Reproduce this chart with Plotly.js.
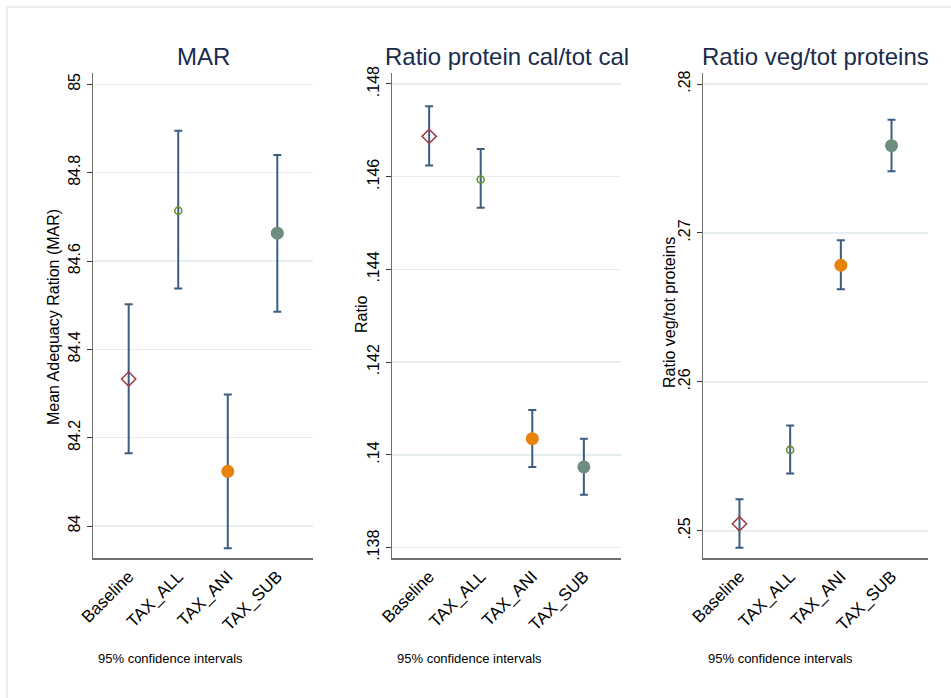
<!DOCTYPE html>
<html>
<head>
<meta charset="utf-8">
<script src="https://cdn.plot.ly/plotly-3.0.1.min.js"></script>
<style>html,body{margin:0;padding:0;background:#fff;}#chart{width:951px;height:698px;}</style>
</head>
<body>
<div id="chart"></div>
<script>
// ---- data ----
const categories = ["Baseline", "TAX_ALL", "TAX_ANI", "TAX_SUB"];

const marMean  = [84.333, 84.714, 84.124, 84.663];
const marUpper = [84.502, 84.895, 84.298, 84.840];
const marLower = [84.165, 84.538, 83.950, 84.485];

const protMean  = [0.14687, 0.14594, 0.14035, 0.13974];
const protUpper = [0.14752, 0.14660, 0.14097, 0.14035];
const protLower = [0.14624, 0.14533, 0.13974, 0.13914];

const vegMean  = [0.25047, 0.25543, 0.26783, 0.27586];
const vegUpper = [0.25211, 0.25707, 0.26951, 0.27760];
const vegLower = [0.24886, 0.25385, 0.26622, 0.27414];

const panelTitles = ["MAR", "Ratio protein cal/tot cal", "Ratio veg/tot proteins"];
const yTitles = ["Mean Adequacy Ration (MAR)", "Ratio", "Ratio veg/tot proteins"];
const noteText = "95% confidence intervals";

const marTickVals = [84, 84.2, 84.4, 84.6, 84.8, 85];
const marTickText = ["84", "84.2", "84.4", "84.6", "84.8", "85"];
const protTickVals = [0.138, 0.140, 0.142, 0.144, 0.146, 0.148];
const protTickText = [".138", ".14", ".142", ".144", ".146", ".148"];
const vegTickVals = [0.25, 0.26, 0.27, 0.28];
const vegTickText = [".25", ".26", ".27", ".28"];

// ---- styles ----
const W = 951, H = 698;
const markerStyles = [
  {symbol: "diamond-open", size: 11, color: "#a23b48", line: {width: 1.5, color: "#a23b48"}},
  {symbol: "circle-open", size: 7, color: "#6a8f2e", line: {width: 1.6, color: "#6a8f2e"}},
  {symbol: "circle", size: 13, color: "#e8820c", line: {width: 0}},
  {symbol: "circle", size: 13, color: "#6c8d80", line: {width: 0}}
];
const errColor = "#3b5d80";
const FONT = "Liberation Sans, Arial, Helvetica, sans-serif";

const panels = [
  {mean: marMean, up: marUpper, lo: marLower, range: [83.927, 85.025], tv: marTickVals, tt: marTickText, px: [93, 313]},
  {mean: protMean, up: protUpper, lo: protLower, range: [0.13777, 0.14823], tv: protTickVals, tt: protTickText, px: [392, 621]},
  {mean: vegMean, up: vegUpper, lo: vegLower, range: [0.24815, 0.28072], tv: vegTickVals, tt: vegTickText, px: [703, 928]}
];
const yPx = [73.3, 558.3];
const yDomain = [(H - yPx[1]) / H, (H - yPx[0]) / H];

const traces = [];
const layout = {
  width: W, height: H,
  margin: {l: 0, r: 0, t: 0, b: 0},
  paper_bgcolor: "#ffffff", plot_bgcolor: "#ffffff",
  showlegend: false,
  font: {family: FONT, color: "#000"},
  annotations: [],
  shapes: [{type: "rect", xref: "paper", yref: "paper", x0: 7 / W, x1: 1.02, y0: -0.02, y1: 1 - 7 / H,
            line: {color: "#e3ecee", width: 1.5}, layer: "below"}]
};

panels.forEach((p, pi) => {
  const sfx = pi === 0 ? "" : String(pi + 1);
  categories.forEach((c, ci) => {
    traces.push({
      type: "scatter", mode: "markers",
      x: [c], y: [p.mean[ci]],
      xaxis: "x" + sfx, yaxis: "y" + sfx,
      marker: markerStyles[ci],
      error_y: {type: "data", symmetric: false,
        array: [p.up[ci] - p.mean[ci]], arrayminus: [p.mean[ci] - p.lo[ci]],
        color: errColor, thickness: 2, width: 4},
      hoverinfo: "x+y"
    });
  });
  layout["xaxis" + sfx] = {
    domain: [p.px[0] / W, p.px[1] / W], anchor: "y" + sfx,
    type: "category", categoryorder: "array", categoryarray: categories,
    range: [-0.72, 3.72], showgrid: false, zeroline: false,
    showline: true, linecolor: "#6f6f6f", linewidth: 1.5,
    ticks: "", tickangle: -45, tickfont: {size: 17, family: FONT, color: "#000"}
  };
  layout["yaxis" + sfx] = {
    domain: yDomain, anchor: "x" + sfx,
    range: p.range, tickvals: p.tv, ticktext: p.tt,
    showgrid: true, gridcolor: "#e5edf0", gridwidth: 1.5, zeroline: false,
    showline: true, linecolor: "#6f6f6f", linewidth: 1.5,
    ticks: "outside", ticklen: 5, tickcolor: "#333", tickwidth: 1,
    tickangle: -90, tickfont: {size: 16, family: FONT, color: "#000"}
  };
  const cx = (p.px[0] + p.px[1]) / 2;
  layout.annotations.push({
    text: panelTitles[pi], xref: "paper", yref: "paper",
    x: cx / W, y: 1 - 57 / H, xanchor: "center", yanchor: "middle",
    showarrow: false, font: {size: 24, family: FONT, color: "#1a2b4c"}
  });
  layout.annotations.push({
    text: noteText, xref: "paper", yref: "paper",
    x: (p.px[0] + 3) / W, y: 1 - 658 / H, xanchor: "left", yanchor: "middle",
    showarrow: false, font: {size: 13, family: FONT, color: "#000"}
  });
});

const yTitleX = [53, 361, 669];
const yTitleY = [317, 315, 313];
yTitles.forEach((t, i) => {
  layout.annotations.push({
    text: t, xref: "paper", yref: "paper",
    x: yTitleX[i] / W, y: 1 - yTitleY[i] / H, xanchor: "center", yanchor: "middle",
    textangle: -90, showarrow: false, font: {size: 16, family: FONT, color: "#000"}
  });
});

Plotly.newPlot("chart", traces, layout, {displayModeBar: false, staticPlot: true});
</script>
</body>
</html>
